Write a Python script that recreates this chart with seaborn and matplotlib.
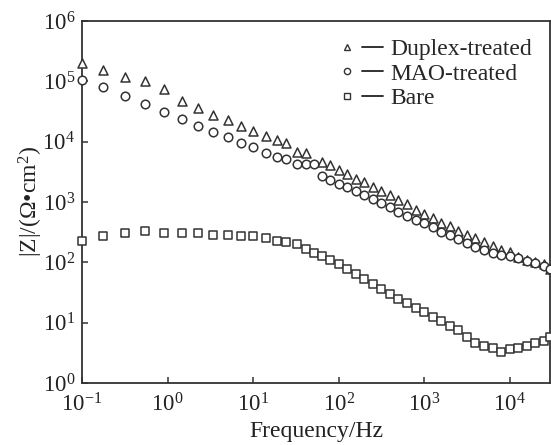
"""Bode |Z| plot for bare, MAO-treated and duplex-treated samples"""

import matplotlib
matplotlib.use("Agg")
import matplotlib.pyplot as plt
from matplotlib.lines import Line2D
from matplotlib.legend_handler import HandlerTuple
from matplotlib.ticker import NullLocator
import seaborn as sns
import numpy as np
import pandas as pd

# Frequencies (Hz): low-frequency sweep, then high-frequency sweep
freq_low = [0.1, 0.178, 0.316, 0.55, 0.91, 1.48, 2.29, 3.39, 5.13, 7.24, 10.0,
            14.1, 19.1, 24.5, 32.4, 41.7, 51.3]
freq_high = [63.1, 79.4, 100, 126, 158, 200, 251, 316, 398, 501, 631, 794, 1000,
             1259, 1585, 1995, 2512, 3162, 3981, 5012, 6310, 7943, 10000, 12589,
             15849, 19953, 25119, 29512]

# |Z| in ohm*cm^2
duplex_low = [199500, 155000, 117500, 102300, 75900, 47900, 36300, 28200, 22900,
              18200, 15100, 12600, 10700, 9550, 6760, 6460, np.nan]
duplex_high = [4570, 4070, 3390, 2880, 2450, 2140, 1780, 1510, 1290, 1070, 933, 741,
               631, 537, 447, 398, 331, 282, 251, 214, 186, 158, 148, 123, 110, 100,
               93, 79]
mao_low = [107200, 79400, 56200, 41700, 30900, 23400, 18200, 14500, 12000, 9330,
           8130, 6610, 5620, 5130, 4270, 4270, 4270]
mao_high = [2690, 2290, 2000, 1780, 1510, 1320, 1120, 955, 813, 676, 589, 501, 447,
            380, 316, 282, 240, 209, 178, 158, 141, 132, 126, 117, 105, 98, 87, 79]
bare_low = [224, 269, 302, 331, 302, 302, 302, 282, 282, 269, 269, 251, 224, 214,
            200, 166, 141]
bare_high = [126, 110, 93, 78, 63, 52.5, 43.7, 36.3, 29.5, 24.5, 20.9, 17.4, 14.8,
             12.3, 10.5, 8.7, 7.6, 5.75, 4.57, 4.07, 3.80, 3.24, 3.63, 3.80, 4.07,
             4.57, 4.90, 5.75]

labels = ["Duplex-treated", "MAO-treated", "Bare"]
markers = ["^", "o", "s"]
sizes = [42, 38, 32]
xticks = [0.1, 1, 10, 100, 1000, 10000]
yticks = [1, 10, 100, 1000, 1e4, 1e5, 1e6]

freq = freq_low + freq_high
series = {
    "Duplex-treated": duplex_low + duplex_high,
    "MAO-treated": mao_low + mao_high,
    "Bare": bare_low + bare_high,
}

sns.set_style("ticks")
plt.rcParams["font.family"] = ["Liberation Serif", "DejaVu Serif"]
plt.rcParams["mathtext.fontset"] = "custom"
plt.rcParams["mathtext.rm"] = "Liberation Serif"
plt.rcParams["mathtext.it"] = "Liberation Serif:italic"
plt.rcParams["mathtext.default"] = "regular"

ink = "#333333"
fig = plt.figure(figsize=(5.51, 4.45), dpi=100)
ax = fig.add_axes([0.1488, 0.1393, 0.8492, 0.8135])
ax.set(xscale="log", yscale="log")

for name, m, s in zip(labels, markers, sizes):
    df = pd.DataFrame({"f": freq, "z": series[name]}).dropna()
    sns.scatterplot(data=df, x="f", y="z", marker=m, s=s, color="white",
                    edgecolor=ink, linewidth=1.1, ax=ax, clip_on=False,
                    legend=False, zorder=3)

ax.set_xticks(xticks)
ax.set_yticks(yticks)
ax.xaxis.set_minor_locator(NullLocator())
ax.yaxis.set_minor_locator(NullLocator())
ax.set_xlim(0.1, 29512)
ax.set_ylim(1, 1e6)
ax.tick_params(which="major", direction="in", length=4, width=1.1, color=ink,
               labelsize=16.5, labelcolor="#222222", top=False, right=False)
ax.tick_params(axis="x", pad=7.5)
ax.tick_params(axis="y", pad=5)
for sp in ax.spines.values():
    sp.set_color(ink)
    sp.set_linewidth(1.3)

ax.set_xlabel("Frequency/Hz", fontsize=17, color="#222222", labelpad=3)
ax.set_ylabel("|$Z$|/(Ω•cm$^2$)", fontsize=17, color="#222222", labelpad=-2)

# legend: small marker followed by a short line
handles = []
for m in markers:
    mk = Line2D([], [], marker=m, linestyle="", markersize=4.5,
                markerfacecolor="white", markeredgecolor=ink, markeredgewidth=1.0)
    ln = Line2D([], [], color="#222222", linewidth=1.3)
    handles.append((mk, ln))
ax.legend(handles, labels, handler_map={tuple: HandlerTuple(ndivide=None, pad=0.2)},
          loc="upper left", bbox_to_anchor=(0.543, 0.952), frameon=False,
          fontsize=17, handlelength=2.0, handletextpad=0.3, labelspacing=0.13,
          borderpad=0, borderaxespad=0)

fig.savefig("out.png", dpi=100)
